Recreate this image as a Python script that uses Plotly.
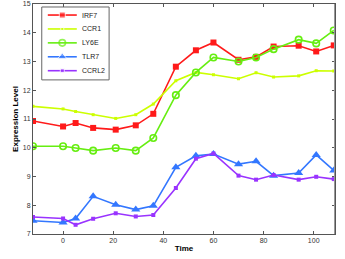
import plotly.graph_objects as go

time = [-12, 0, 5, 12, 21, 29, 36, 45, 53, 60, 70, 77, 84, 94, 101, 108]
irf7 = [10.93, 10.74, 10.86, 10.69, 10.63, 10.78, 11.18, 12.82, 13.39, 13.66, 13.06, 13.16, 13.52, 13.55, 13.35, 13.56]
ccr1 = [11.44, 11.35, 11.26, 11.15, 11.02, 11.15, 11.52, 12.33, 12.62, 12.54, 12.40, 12.61, 12.46, 12.50, 12.68, 12.67]
ly6e = [10.05, 10.05, 9.99, 9.90, 9.99, 9.90, 10.34, 11.83, 12.62, 13.14, 13.00, 13.14, 13.43, 13.76, 13.63, 14.08]
tlr7 = [7.46, 7.40, 7.54, 8.31, 8.02, 7.85, 7.98, 9.32, 9.72, 9.78, 9.43, 9.53, 9.03, 9.12, 9.75, 9.21]
ccrl2 = [7.59, 7.54, 7.32, 7.53, 7.72, 7.61, 7.66, 8.60, 9.62, 9.80, 9.03, 8.89, 9.05, 8.89, 8.99, 8.91]

series_names = ["IRF7", "CCR1", "LY6E", "TLR7", "CCRL2"]
series_values = [irf7, ccr1, ly6e, tlr7, ccrl2]

x_ticks = [0, 20, 40, 60, 80, 100]
y_ticks = [7, 8, 9, 10, 11, 12, 13, 14, 15]

colors = ["#ff1a1a", "#ccff00", "#66ee11", "#3377ff", "#9933ff"]
markers = [
    dict(symbol="square", size=6),
    dict(symbol="square", size=3),
    dict(symbol="circle-open", size=6.5, line=dict(width=1.6)),
    dict(symbol="triangle-up", size=8),
    dict(symbol="square", size=4),
]

FONT = "Liberation Sans"

fig = go.Figure()
for name, vals, col, mk in zip(series_names, series_values, colors, markers):
    m = dict(mk, color=col)
    if "line" in mk:
        m["line"] = dict(mk["line"], color=col)
    fig.add_trace(go.Scatter(x=time, y=vals, name=name, mode="lines+markers",
                             line=dict(color=col, width=1.6), marker=m, showlegend=False))

# custom compact legend on an overlay axis spanning the plot area (0..1)
leg_x0, leg_x1 = 0.029, 0.252
leg_y0, leg_y1 = 0.670, 0.987
line_x0, line_x1 = 0.049, 0.145
text_x = 0.156
row_top, row_step = 0.952, 0.0605
for i, (name, col, mk) in enumerate(zip(series_names, colors, markers)):
    yy = row_top - i * row_step
    m = dict(mk, color=col)
    if "line" in mk:
        m["line"] = dict(mk["line"], color=col)
    m["size"] = [0, mk["size"], 0]
    fig.add_trace(go.Scatter(x=[line_x0, (line_x0 + line_x1) / 2, line_x1], y=[yy, yy, yy],
                             mode="lines+markers", line=dict(color=col, width=1.6), marker=m,
                             xaxis="x2", yaxis="y2", showlegend=False, hoverinfo="skip"))
    fig.add_annotation(x=text_x, y=yy, xref="x2", yref="y2", text=name, showarrow=False,
                       xanchor="left", yanchor="middle",
                       font=dict(family=FONT, size=7, color="#222"))
fig.add_shape(type="rect", xref="x2", yref="y2", x0=leg_x0, x1=leg_x1, y0=leg_y0, y1=leg_y1,
              line=dict(color="#666", width=1), fillcolor="rgba(0,0,0,0)", layer="above")
# slightly heavier grey right frame like the reference
fig.add_shape(type="line", xref="x2", yref="y2", x0=1, x1=1, y0=0, y1=1,
              line=dict(color="#999", width=2), layer="above")

axis_common = dict(showline=True, linecolor="#555", linewidth=1, mirror="ticks",
                   ticks="inside", ticklen=3, tickcolor="#555", showgrid=False,
                   zeroline=False, automargin=False,
                   tickfont=dict(family=FONT, size=7, color="#333"))

fig.update_xaxes(range=[-12, 108.5], tickvals=x_ticks,
                 title=dict(text="<b>Time</b>", font=dict(family=FONT, size=8, color="#000"), standoff=1),
                 **axis_common)
fig.update_yaxes(range=[7, 15], tickvals=y_ticks,
                 title=dict(text="<b>Expression Level</b>", font=dict(family=FONT, size=8, color="#000"), standoff=3),
                 **axis_common)

fig.update_layout(
    width=345, height=259,
    margin=dict(l=33, r=10, t=4, b=25),
    plot_bgcolor="white", paper_bgcolor="white",
    xaxis2=dict(overlaying="x", range=[0, 1], visible=False, fixedrange=True),
    yaxis2=dict(overlaying="y", range=[0, 1], visible=False, fixedrange=True),
    showlegend=False,
)

fig.write_html("out.html", config={"displayModeBar": False},
               post_script="document.body.style.margin='0';document.body.style.overflow='hidden';")
